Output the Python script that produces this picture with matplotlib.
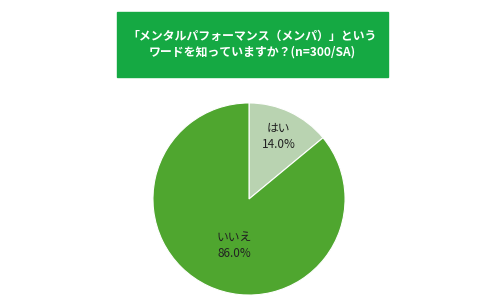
import matplotlib.pyplot as plt
from matplotlib.patches import Rectangle

plt.rcParams['font.family'] = ['Noto Sans CJK JP', 'DejaVu Sans']

labels = ["はい", "いいえ"]
values = [14.0, 86.0]
colors = ["#b9d3b1", "#4fa62f"]
title = "「メンタルパフォーマンス（メンパ）」という\nワードを知っていますか？(n=300/SA)"

fig = plt.figure(figsize=(5, 3.05), dpi=100)

# title box
fig.patches.append(Rectangle((117 / 500, 1 - 77 / 305), 271 / 500, 65 / 305,
                             transform=fig.transFigure, color="#15a943", zorder=0))
fig.text(252 / 500, 1 - 44 / 305, title, ha="center", va="center", color="white",
         fontsize=8.6, fontweight="bold", linespacing=1.25)

r = 97
ax = fig.add_axes([(249 - r) / 500, (305 - 199 - r) / 305, 2 * r / 500, 2 * r / 305])
wedges, _ = ax.pie(values, colors=colors, startangle=90, counterclock=False,
                   wedgeprops=dict(edgecolor="white", linewidth=0.8))
ax.set_xlim(-1.01, 1.01)
ax.set_ylim(-1.01, 1.01)
ax.set_aspect("equal")

label_pos = [(0.31, 0.65), (-0.15, -0.48)]
for lab, v, (x, y) in zip(labels, values, label_pos):
    ax.text(x, y, f"{lab}\n{v:.1f}%", ha="center", va="center", fontsize=8.5,
            color="#222222", linespacing=1.3)

fig.savefig("out.png", dpi=100)
